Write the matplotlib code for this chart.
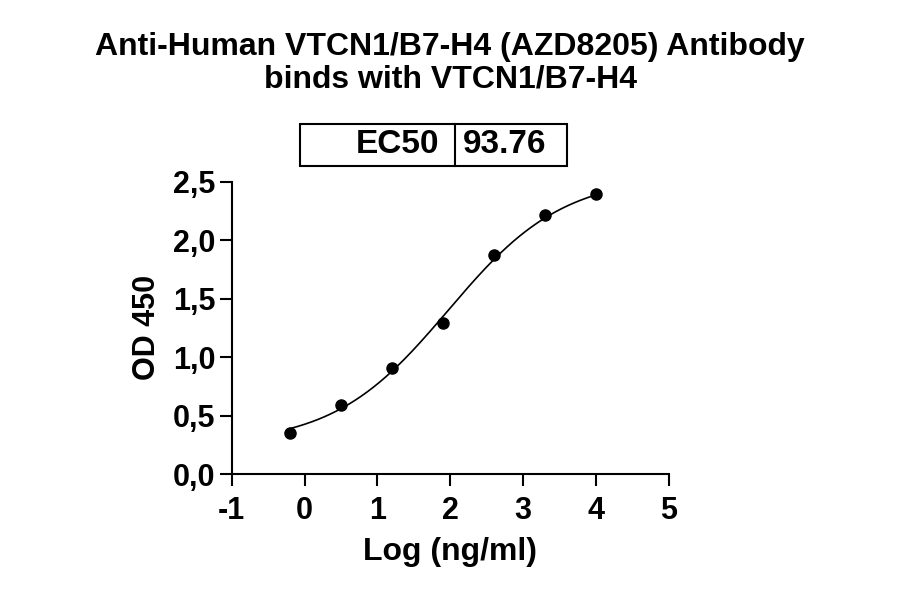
import numpy as np
import matplotlib
matplotlib.use("Agg")
import matplotlib.pyplot as plt
from matplotlib.patches import Rectangle
from matplotlib.lines import Line2D

plt.rcParams['font.family'] = ['Liberation Sans', 'DejaVu Sans']

# Data
log_conc = [-0.194, 0.505, 1.204, 1.903, 2.602, 3.301, 4.0]
od450 = [0.348, 0.587, 0.903, 1.293, 1.874, 2.214, 2.393]
ec50 = 93.76
fit_bottom = 0.25
fit_top = 2.55
fit_hill = 0.55
x_ticks = [-1, 0, 1, 2, 3, 4, 5]
y_ticks = [0.0, 0.5, 1.0, 1.5, 2.0, 2.5]
y_tick_labels = ["0,0", "0,5", "1,0", "1,5", "2,0", "2,5"]

fig = plt.figure(figsize=(9, 5.94), dpi=100)
ax = fig.add_axes([0.2574, 0.202, 0.4859, 0.4924])

xs = np.linspace(min(log_conc), max(log_conc), 300)
log_ec50 = np.log10(ec50)
ys = fit_bottom + (fit_top - fit_bottom) / (1 + 10 ** ((log_ec50 - xs) * fit_hill))
ax.plot(xs, ys, color='black', lw=1.2, clip_on=False)
ax.plot(log_conc, od450, 'o', color='black', ms=8, clip_on=False)

ax.set_xlim(-1, 5)
ax.set_ylim(0, 2.5)
ax.set_xticks(x_ticks)
ax.set_xticklabels([str(t) for t in x_ticks])
ax.set_yticks(y_ticks)
ax.set_yticklabels(y_tick_labels)
for s in ['top', 'right']:
    ax.spines[s].set_visible(False)
for s in ['left', 'bottom']:
    ax.spines[s].set_linewidth(1.5)
ax.tick_params(width=1.5, length=8.5, labelsize=22)
ax.tick_params(axis='x', pad=7)
ax.tick_params(axis='y', pad=3)
for lab in ax.get_xticklabels() + ax.get_yticklabels():
    lab.set_fontweight('bold')
ax.set_xlabel("Log (ng/ml)", fontsize=23, fontweight='bold', labelpad=8)
ax.set_ylabel("OD 450", fontsize=22, fontweight='bold', labelpad=8)

fig.text(0.5, 1 - 47/594, "Anti-Human VTCN1/B7-H4 (AZD8205) Antibody", ha='center', va='center',
         fontsize=23, fontweight='bold')
fig.text(0.5, 1 - 80/594, "binds with VTCN1/B7-H4", ha='center', va='center',
         fontsize=23, fontweight='bold')

# EC50 box
W, H = 900, 594
x0, x1, xm = 300/W, 567/W, 455/W
y0, y1 = 1 - 166/H, 1 - 124/H
fig.patches.append(Rectangle((x0, y0), x1 - x0, y1 - y0, transform=fig.transFigure,
                             fill=False, lw=1.5, ec='black'))
fig.lines.append(Line2D([xm, xm], [y0, y1], transform=fig.transFigure, lw=1.5, color='black'))
fig.text(439/W, (y0 + y1)/2, "EC50", ha='right', va='center', fontsize=24, fontweight='bold')
fig.text(505/W, (y0 + y1)/2, f"{ec50:.2f}", ha='center', va='center', fontsize=24, fontweight='bold')

fig.savefig("out.png", dpi=100)
